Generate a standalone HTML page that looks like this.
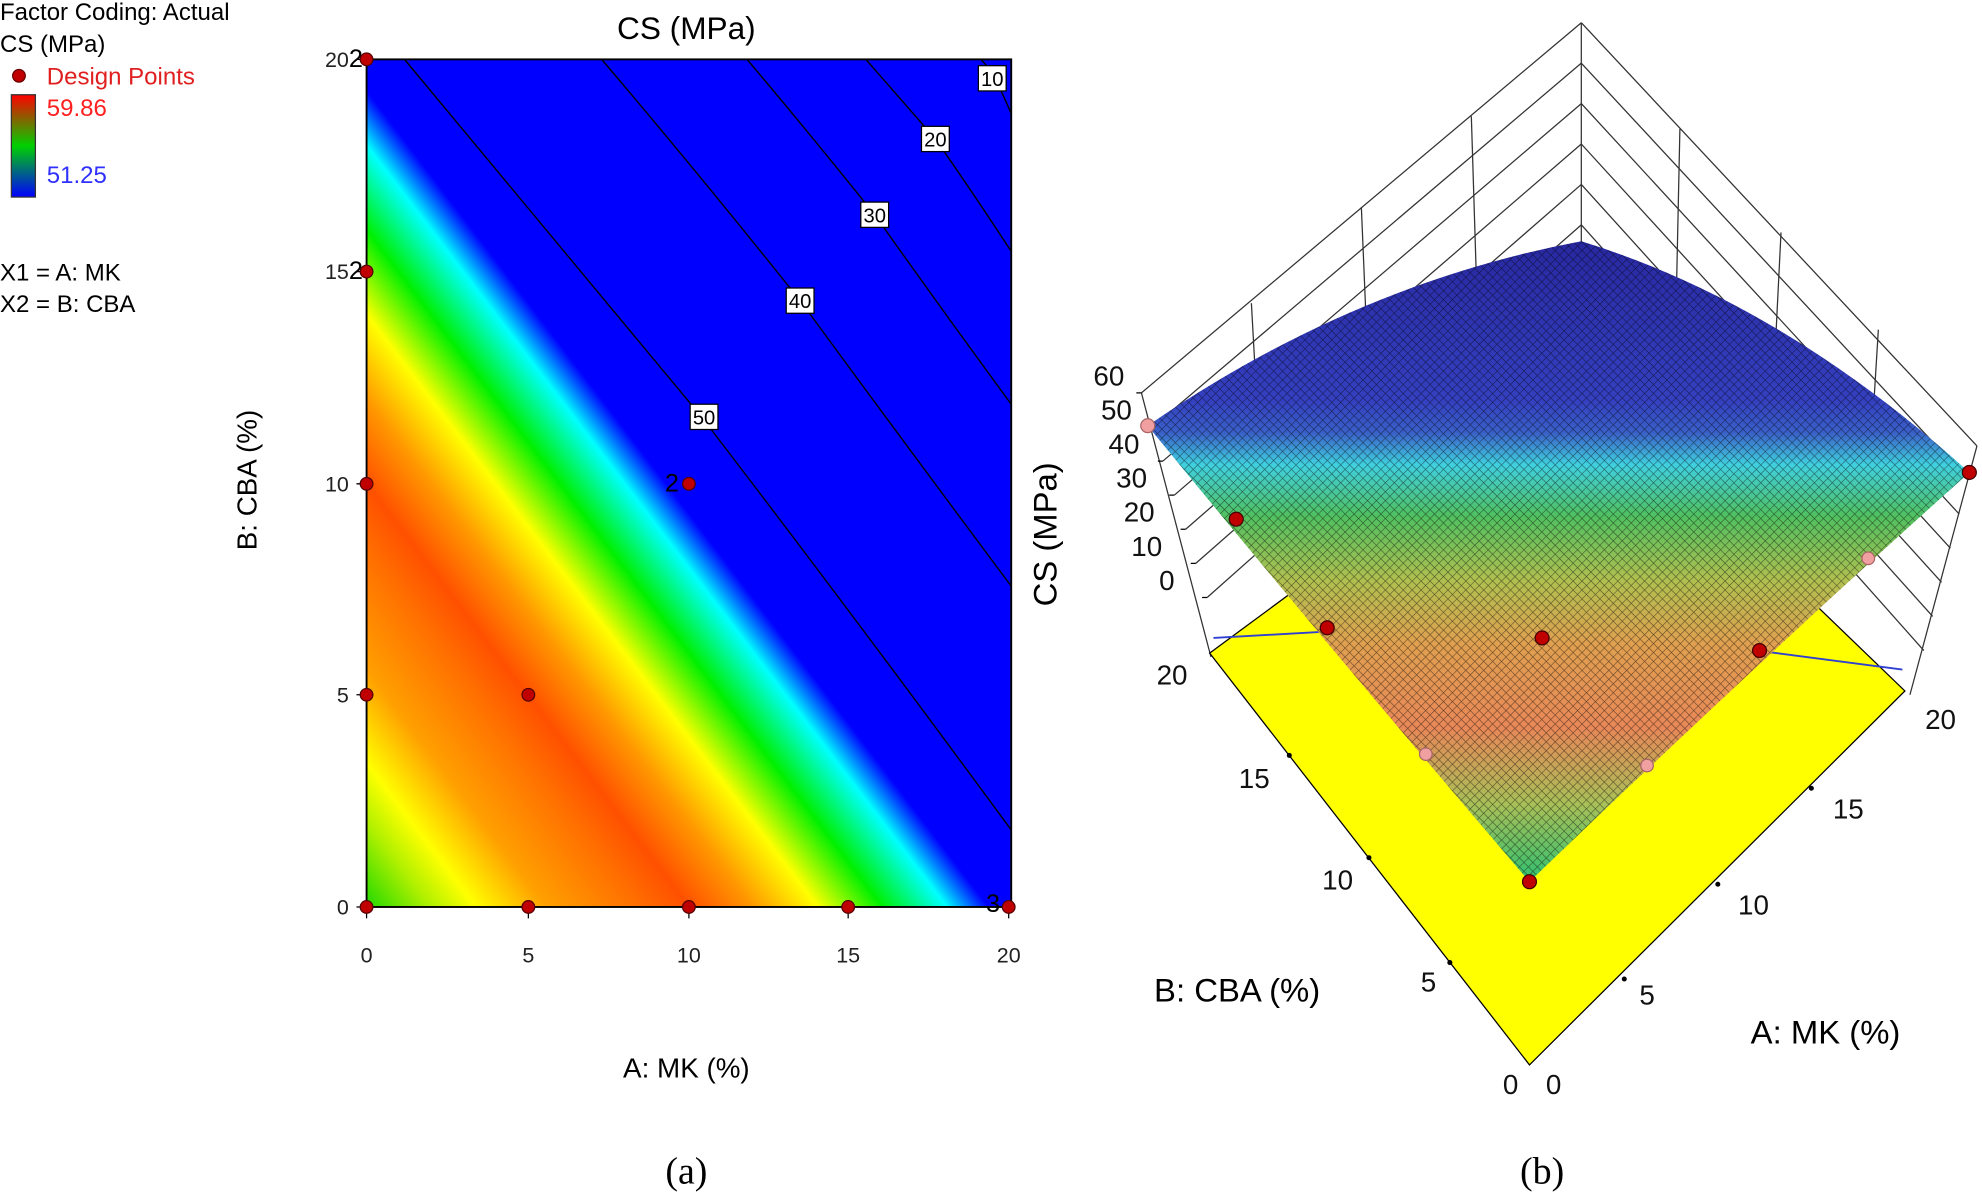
<!DOCTYPE html>
<html><head><meta charset="utf-8"><style>
html,body{margin:0;padding:0;background:#fff;}
svg{display:block;}
text{font-family:"Liberation Sans",sans-serif;}
</style></head><body>
<svg width="1982" height="1195" viewBox="0 0 1568 946" preserveAspectRatio="none" xmlns="http://www.w3.org/2000/svg">
<defs>
<linearGradient id="cg" gradientUnits="userSpaceOnUse" x1="290" y1="718" x2="613" y2="472">
<stop offset="0" stop-color="#20d800"/>
<stop offset="0.1" stop-color="#b0f000"/>
<stop offset="0.17" stop-color="#ffff00"/>
<stop offset="0.28" stop-color="#ffa000"/>
<stop offset="0.42" stop-color="#ff7000"/>
<stop offset="0.5" stop-color="#ff5000"/>
<stop offset="0.6" stop-color="#ff9800"/>
<stop offset="0.7" stop-color="#ffff00"/>
<stop offset="0.8" stop-color="#00f000"/>
<stop offset="0.9" stop-color="#00ffff"/>
<stop offset="0.965" stop-color="#0000ff"/>
<stop offset="1" stop-color="#0000ff"/>
</linearGradient>
<linearGradient id="lg" x1="0" y1="0" x2="0" y2="1">
<stop offset="0" stop-color="#ff0000"/>
<stop offset="0.5" stop-color="#00d000"/>
<stop offset="1" stop-color="#0000ff"/>
</linearGradient>
<linearGradient id="sg" gradientUnits="userSpaceOnUse" x1="0" y1="190" x2="0" y2="698">
<stop offset="0" stop-color="#2828a0"/>
<stop offset="0.25" stop-color="#3440c0"/>
<stop offset="0.3" stop-color="#3a60c8"/>
<stop offset="0.35" stop-color="#40d0e0"/>
<stop offset="0.43" stop-color="#50c060"/>
<stop offset="0.53" stop-color="#b0c050"/>
<stop offset="0.63" stop-color="#e0a050"/>
<stop offset="0.76" stop-color="#e88858"/>
<stop offset="0.88" stop-color="#a8c058"/>
<stop offset="1" stop-color="#30c070"/>
</linearGradient>
<pattern id="mesh" width="5" height="5" patternUnits="userSpaceOnUse" patternTransform="rotate(45)">
<path d="M0 0H5M0 0V5" stroke="#000" stroke-opacity="0.55" stroke-width="0.9" fill="none"/>
</pattern>
</defs>

<text x="0" y="16" font-size="19">Factor Coding: Actual</text>
<text x="0" y="41" font-size="19">CS (MPa)</text>
<circle cx="15" cy="60" r="5" fill="#c00000" stroke="#600" stroke-width="1"/>
<text x="37" y="67" font-size="19" fill="#e02020">Design Points</text>
<rect x="9" y="75" width="19" height="81" fill="url(#lg)" stroke="#333" stroke-width="1"/>
<text x="37" y="92" font-size="19" fill="#ff2020">59.86</text>
<text x="37" y="145" font-size="19" fill="#3030ff">51.25</text>
<text x="0" y="222" font-size="19">X1 = A: MK</text>
<text x="0" y="247" font-size="19">X2 = B: CBA</text>

<text x="543" y="31" font-size="25" text-anchor="middle">CS (MPa)</text>
<rect x="290" y="47" width="510" height="671" fill="url(#cg)"/>
<g fill="none" stroke="#000" stroke-width="1.1">
<path d="M320 47 Q430 180 555 330 Q670 480 800 657"/>
<path d="M476 47 Q555 140 633 238 Q715 350 800 464"/>
<path d="M591 47 Q640 105 692 170 Q745 245 800 320"/>
<path d="M685 47 Q712 78 740 110 Q770 153 800 199"/>
<path d="M776 47 Q785 56 790 68 Q795 78 800 90"/>
</g>
<g font-size="16" text-anchor="middle">
<rect x="546" y="320" width="22" height="20" fill="#fff" stroke="#000"/><text x="557" y="336">50</text>
<rect x="622" y="228" width="22" height="20" fill="#fff" stroke="#000"/><text x="633" y="244">40</text>
<rect x="681" y="160" width="22" height="20" fill="#fff" stroke="#000"/><text x="692" y="176">30</text>
<rect x="729" y="100" width="22" height="20" fill="#fff" stroke="#000"/><text x="740" y="116">20</text>
<rect x="774" y="52" width="22" height="20" fill="#fff" stroke="#000"/><text x="785" y="68">10</text>
</g>
<rect x="290" y="47" width="510" height="671" fill="none" stroke="#000" stroke-width="1.5"/>
<g stroke="#000" stroke-width="1">
<path d="M282 47H290M282 215H290M282 383H290M282 550H290M282 718H290"/>
<path d="M290 718V727M418 718V727M545 718V727M671 718V727M798 718V727"/>
</g>
<g font-size="17" fill="#222" text-anchor="end">
<text x="276" y="53">20</text><text x="276" y="221">15</text><text x="276" y="389">10</text><text x="276" y="556">5</text><text x="276" y="724">0</text>
</g>
<g font-size="17" fill="#222" text-anchor="middle">
<text x="290" y="762">0</text><text x="418" y="762">5</text><text x="545" y="762">10</text><text x="671" y="762">15</text><text x="798" y="762">20</text>
</g>
<g font-size="20">
<text x="276" y="53">2</text><text x="276" y="221">2</text><text x="526" y="389">2</text><text x="780" y="722">3</text>
</g>
<g fill="#c00000" stroke="#500" stroke-width="1">
<circle cx="290" cy="47" r="5"/><circle cx="290" cy="215" r="5"/><circle cx="290" cy="383" r="5"/><circle cx="290" cy="550" r="5"/><circle cx="290" cy="718" r="5"/>
<circle cx="418" cy="550" r="5"/><circle cx="418" cy="718" r="5"/><circle cx="545" cy="383" r="5"/><circle cx="545" cy="718" r="5"/><circle cx="671" cy="718" r="5"/><circle cx="798" cy="718" r="5"/>
</g>
<text x="543" y="853" font-size="22" text-anchor="middle">A: MK (%)</text>
<text transform="translate(203,380) rotate(-90)" font-size="22" text-anchor="middle">B: CBA (%)</text>
<text x="543" y="937" font-size="30" text-anchor="middle" style="font-family:'Liberation Serif',serif">(a)</text>

<g stroke="#333" stroke-width="1" fill="none">
<path d="M903 311L1251 18M912 338L1251 50M920 365L1251 82M929 392L1251 114M938 419L1251 146M946 446L1251 178M955 473L1251 210"/>
<path d="M1564 353L1251 18M1557 380L1251 50M1550 407L1251 82M1543 434L1251 114M1536 461L1251 146M1529 488L1251 178M1522 515L1251 210"/>
<path d="M1251 18V230"/>
<path d="M990 240L1000 420M1077 164L1085 355M1164 92L1170 285"/>
<path d="M1329 102L1325 290M1409 184L1400 365M1486 261L1475 440"/>
<path d="M903 311L958 520M1564 353L1511 550"/>
</g>
<g stroke="#000" stroke-width="1">
<path d="M903 311h-4M912 338h-4M920 365h-4M929 392h-4M938 419h-4M946 446h-4M955 473h-4"/>
</g>
<polygon points="957,517 1251,300 1507,547 1210,843" fill="#ffff00" stroke="#000" stroke-width="1"/>
<path d="M960 505L1050 500M1390 515L1505 530" stroke="#3040d0" stroke-width="1.5" fill="none"/>
<g fill="#000">
<circle cx="1020" cy="598" r="2"/><circle cx="1083" cy="679" r="2"/><circle cx="1147" cy="762" r="2"/>
<circle cx="1285" cy="775" r="2"/><circle cx="1359" cy="700" r="2"/><circle cx="1433" cy="624" r="2"/>
</g>
<path d="M1251 191 Q1070 225 908 337 Q1045 505 1210 698 Q1395 520 1558 374 Q1410 240 1251 191Z" fill="url(#sg)"/>
<path d="M1251 191 Q1070 225 908 337 Q1045 505 1210 698 Q1395 520 1558 374 Q1410 240 1251 191Z" fill="url(#mesh)"/>
<g stroke="#400" stroke-width="1">
<g fill="#c00000">
<circle cx="978" cy="411" r="5.5"/><circle cx="1050" cy="497" r="5.5"/><circle cx="1220" cy="505" r="5.5"/><circle cx="1392" cy="515" r="5.5"/><circle cx="1558" cy="374" r="5.5"/><circle cx="1210" cy="698" r="5.5"/>
</g>
<g fill="#f0a0a0" stroke="#a66">
<circle cx="908" cy="337" r="5.5"/><circle cx="1128" cy="597" r="5"/><circle cx="1303" cy="606" r="5"/><circle cx="1478" cy="442" r="5"/>
</g>
</g>
<g font-size="22" fill="#111">
<text x="865" y="305">60</text><text x="871" y="332">50</text><text x="877" y="359">40</text><text x="883" y="386">30</text><text x="889" y="413">20</text><text x="895" y="440">10</text><text x="917" y="467">0</text>
<text x="915" y="542">20</text><text x="980" y="624">15</text><text x="1046" y="704">10</text><text x="1124" y="785">5</text><text x="1189" y="866">0</text>
<text x="1223" y="866">0</text><text x="1297" y="795">5</text><text x="1375" y="724">10</text><text x="1450" y="648">15</text><text x="1523" y="577">20</text>
</g>
<text transform="translate(836,423) rotate(-90)" font-size="26" text-anchor="middle">CS (MPa)</text>
<text x="913" y="793" font-size="26">B: CBA (%)</text>
<text x="1385" y="826" font-size="26">A: MK (%)</text>
<text x="1220" y="937" font-size="30" text-anchor="middle" style="font-family:'Liberation Serif',serif">(b)</text>
</svg>
</body></html>
